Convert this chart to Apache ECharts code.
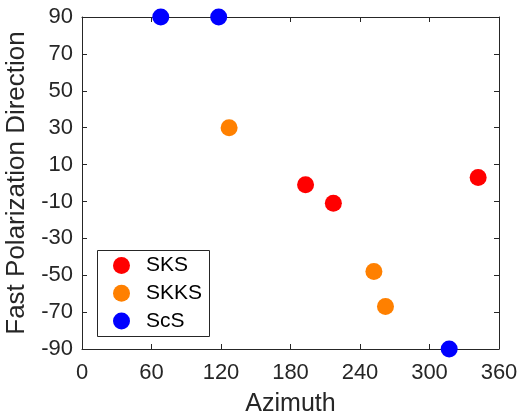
<!DOCTYPE html>
<html>
<head>
<meta charset="utf-8">
<script src="https://cdn.jsdelivr.net/npm/echarts@6/dist/echarts.min.js"></script>
<style>
html,body{margin:0;padding:0;background:#fff;}
#chart{width:521px;height:417px;}
</style>
</head>
<body>
<div id="chart"></div>
<script>
const seriesNames = ['SKS', 'SKKS', 'ScS'];
const seriesColors = ['#ff0000', '#ff8000', '#0000ff'];
const sksAzimuth = [193, 217, 342];
const sksFast = [-1, -11, 3];
const skksAzimuth = [127, 252, 262];
const skksFast = [30, -48, -67];
const scsAzimuth = [68, 118, 317];
const scsFast = [90, 90, -90];
const xTicks = [0, 60, 120, 180, 240, 300, 360];
const yTicks = [-90, -70, -50, -30, -10, 10, 30, 50, 70, 90];

const zip = (a, b) => a.map((v, i) => [v, b[i]]);
const allData = [zip(sksAzimuth, sksFast), zip(skksAzimuth, skksFast), zip(scsAzimuth, scsFast)];

const FONT = '"Liberation Sans", Arial, Helvetica, sans-serif';
const AX = '#262626';

const chart = echarts.init(document.getElementById('chart'), null, {renderer: 'canvas'});

function xAxisDef(pos, main) {
  return {
    type: 'value', position: pos, min: xTicks[0], max: xTicks[xTicks.length - 1],
    interval: xTicks[1] - xTicks[0],
    axisLine: {show: true, onZero: false, lineStyle: {color: AX, width: 1}},
    axisTick: {show: true, inside: true, length: 5, lineStyle: {color: AX}},
    axisLabel: {show: main, fontSize: 22, color: AX, fontFamily: FONT, margin: 13},
    splitLine: {show: false},
    name: main ? 'Azimuth' : '', nameLocation: 'middle', nameGap: 43,
    nameTextStyle: {fontSize: 25, color: AX, fontFamily: FONT}
  };
}
function yAxisDef(pos, main) {
  return {
    type: 'value', position: pos, min: yTicks[0], max: yTicks[yTicks.length - 1],
    interval: yTicks[1] - yTicks[0],
    axisLine: {show: true, onZero: false, lineStyle: {color: AX, width: 1}},
    axisTick: {show: true, inside: true, length: 5, lineStyle: {color: AX}},
    axisLabel: {show: main, fontSize: 22, color: AX, fontFamily: FONT, margin: 9},
    splitLine: {show: false},
    name: main ? 'Fast Polarization Direction' : '', nameLocation: 'middle', nameGap: 42,
    nameTextStyle: {fontSize: 26, color: AX, fontFamily: FONT}
  };
}

chart.setOption({
  backgroundColor: '#fff',
  animation: false,
  grid: {left: 82, top: 17, width: 417, height: 332, containLabel: false, outerBoundsMode: 'none'},
  xAxis: [xAxisDef('bottom', true), xAxisDef('top', false)],
  yAxis: [yAxisDef('left', true), yAxisDef('right', false)],
  graphic: [{
    type: 'rect', left: 97, top: 250, z: 10,
    shape: {width: 112, height: 86},
    style: {fill: '#fff', stroke: AX, lineWidth: 1}
  }],
  legend: {
    orient: 'vertical', left: 113, top: 255, z: 20,
    data: seriesNames,
    icon: 'circle', itemWidth: 17, itemHeight: 17, itemGap: 6.7,
    padding: 0,
    textStyle: {fontSize: 21, color: '#000', fontFamily: FONT, padding: [0, 0, 0, 11]}
  },
  series: seriesNames.map((n, i) => ({
    name: n, type: 'scatter', data: allData[i],
    symbol: 'circle', symbolSize: 17, clip: false, z: 5,
    itemStyle: {color: seriesColors[i], opacity: 1}
  }))
});
</script>
</body>
</html>
